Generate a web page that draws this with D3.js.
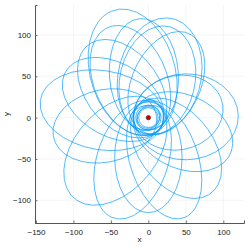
<!DOCTYPE html>
<html>
<head>
<meta charset="utf-8">
<script src="https://cdn.jsdelivr.net/npm/d3@7"></script>
<style>
  html, body { margin: 0; padding: 0; background: #fff; }
  svg { display: block; font-family: "Liberation Sans", Arial, sans-serif; }
</style>
</head>
<body>
<svg id="vis" width="250" height="250"></svg>
<script>
// axis ticks
const xTicks = [-150, -100, -50, 0, 50, 100];
const yTicks = [-100, -50, 0, 50, 100];

// orbit loops (data units): centre, semi-axes, tilt in degrees
const loopCx    = [-62, -44, -21,  21,  37,  50,  40,  24,  15,  12, -21, -24, -35, -47,  46,   0, -58,  -6];
const loopCy    = [  9, -40, -51, -51, -37,   1,   6,  42,  50,  45,  55,  45,  35,  22, -17, -48, -10,  52];
const loopRx    = [ 83,  80,  75,  75,  72,  70,  60,  67,  72,  67,  79,  71,  70,  72,  69,  67,  70,  68];
const loopRy    = [ 48,  52,  47,  45,  47,  52,  45,  45,  55,  50,  56,  48,  47,  45,  45,  45,  44,  46];
const loopAngle = [172, 222, 248, 292, 315,   1,   9,  60,  73,  75, 111, 118, 135, 155, 340, 270, 190,  95];

// tight orbits around the central body
const ringRx    = [13, 15, 16, 17, 25, 22];
const ringRy    = [12, 13, 14, 15, 15, 20];
const ringAngle = [ 0, 10, 30,  0,  5, 80];

// central body
const bodyX = [0];
const bodyY = [0];

const vis = d3.select('#vis');

const x = d3.scaleLinear().domain([-151.3, 127.6]).range([35, 244]);
const y = d3.scaleLinear().domain([-127.5, 136.3]).range([223, 5]);

const lineColor = '#009afa';
const axisColor = '#555';

// grid
vis.append('g')
  .selectAll('line')
  .data(xTicks)
  .enter()
    .append('line')
    .attr('x1', d => x(d))
    .attr('x2', d => x(d))
    .attr('y1', y.range()[0])
    .attr('y2', y.range()[1])
    .attr('stroke', '#000')
    .attr('stroke-opacity', 0.08)
    .attr('stroke-width', 0.6);

vis.append('g')
  .selectAll('line')
  .data(yTicks)
  .enter()
    .append('line')
    .attr('x1', x.range()[0])
    .attr('x2', x.range()[1])
    .attr('y1', d => y(d))
    .attr('y2', d => y(d))
    .attr('stroke', '#000')
    .attr('stroke-opacity', 0.08)
    .attr('stroke-width', 0.6);

// orbit, drawn in data space through the scales
const kx = x(1) - x(0);
const ky = y(0) - y(1);
const dataSpace = vis.append('g')
  .attr('transform', `translate(${x(0)},${y(0)}) scale(${kx},${-ky})`);

const loops = loopCx.map((cx, i) => ({cx, cy: loopCy[i], rx: loopRx[i], ry: loopRy[i], a: loopAngle[i]}));
const rings = ringRx.map((rx, i) => ({cx: 0, cy: 0, rx, ry: ringRy[i], a: ringAngle[i]}));

dataSpace.selectAll('ellipse.loop')
  .data(loops.concat(rings))
  .enter()
    .append('ellipse')
    .classed('loop', true)
    .attr('transform', d => `translate(${d.cx},${d.cy}) rotate(${d.a})`)
    .attr('rx', d => d.rx)
    .attr('ry', d => d.ry)
    .attr('fill', 'none')
    .attr('stroke', lineColor)
    .attr('stroke-width', 0.9)
    .attr('stroke-opacity', 0.75)
    .attr('vector-effect', 'non-scaling-stroke');

// central body
vis.selectAll('circle.body')
  .data(bodyX)
  .enter()
    .append('circle')
    .classed('body', true)
    .attr('cx', d => x(d))
    .attr('cy', (d, i) => y(bodyY[i]))
    .attr('r', 2.2)
    .attr('fill', '#d40000')
    .attr('stroke', '#300')
    .attr('stroke-width', 0.5);

// axes (left and bottom only, ticks pointing inward)
const fmt = d3.format('');
const xAxis = vis.append('g').attr('transform', `translate(0,${y.range()[0]})`)
  .call(d3.axisBottom(x).tickValues(xTicks).tickSize(-2.5).tickPadding(4).tickFormat(fmt));
const yAxis = vis.append('g').attr('transform', `translate(${x.range()[0]},0)`)
  .call(d3.axisLeft(y).tickValues(yTicks).tickSize(-2.5).tickPadding(4).tickFormat(fmt));

[xAxis, yAxis].forEach(ax => {
  ax.select('.domain').attr('stroke', axisColor).attr('stroke-width', 1);
  ax.selectAll('.tick line').attr('stroke', axisColor).attr('stroke-width', 0.8);
  ax.selectAll('.tick text')
    .attr('fill', '#222')
    .style('font-size', '8px')
    .style('font-family', '"Liberation Sans", Arial, sans-serif');
});
xAxis.selectAll('.tick text').attr('dy', '0.95em');

// axis titles
vis.append('text')
  .attr('x', (x.range()[0] + x.range()[1]) / 2)
  .attr('y', 242)
  .attr('text-anchor', 'middle')
  .attr('font-size', 8)
  .attr('fill', '#222')
  .text('x');

vis.append('text')
  .attr('transform', `translate(9,${(y.range()[0] + y.range()[1]) / 2}) rotate(-90)`)
  .attr('text-anchor', 'middle')
  .attr('font-size', 8)
  .attr('fill', '#222')
  .text('y');
</script>
</body>
</html>
